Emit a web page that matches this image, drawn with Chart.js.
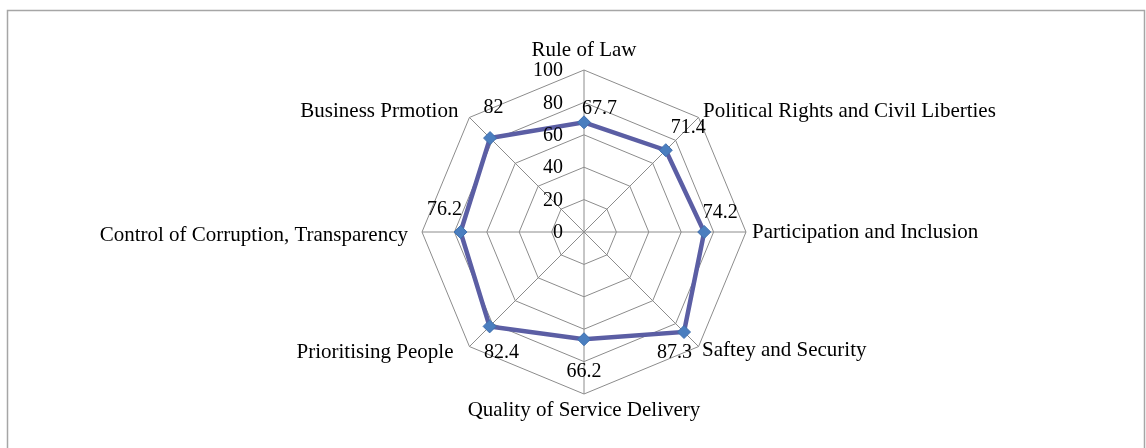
<!DOCTYPE html>
<html>
<head>
<meta charset="utf-8">
<script src="https://cdn.jsdelivr.net/npm/chart.js@4/dist/chart.umd.min.js"></script>
<style>
  html, body { margin: 0; padding: 0; background: #fff; }
  #wrap { width: 1146px; height: 448px; position: relative; }
</style>
</head>
<body>
<div id="wrap"><canvas id="radarChart" width="1146" height="448"></canvas></div>
<script>
// chart data
const categories = [
  'Rule of Law',
  'Political Rights and Civil Liberties',
  'Participation and Inclusion',
  'Saftey and Security',
  'Quality of Service Delivery',
  'Prioritising People',
  'Control of Corruption, Transparency',
  'Business Prmotion'
];
const scores = [67.7, 71.4, 74.2, 87.3, 66.2, 82.4, 76.2, 82];
const tickValues = [0, 20, 40, 60, 80, 100];

// where Excel put the text, relative to the outer vertex / the marker
const catOffsets = [[0, -20, 'center'], [4.5, -5.5, 'left'], [6, 0, 'left'], [3.5, 4, 'left'],
                    [0, 16, 'center'], [-16, 5.5, 'right'], [-14, 3, 'right'], [-11, -5.5, 'right']];
const valOffsets = [[15.5, -14], [22.5, -22], [16, -19], [-9.5, 21], [0, 33], [12, 26], [-16, -22], [3.5, -30]];

const CAT_FONT = '21px "Liberation Serif", "Times New Roman", serif';
const NUM_FONT = '20px "Liberation Serif", "Times New Roman", serif';

const textPlugin = {
  id: 'texts',
  beforeDraw(chart) {
    const ctx = chart.ctx;
    ctx.save();
    ctx.strokeStyle = '#a6a6a6';
    ctx.lineWidth = 1.5;
    ctx.strokeRect(7.5, 10.5, 1137, 460);
    ctx.restore();
  },
  afterDraw(chart) {
    const ctx = chart.ctx;
    const scale = chart.scales.r;
    ctx.save();
    ctx.fillStyle = '#000';
    ctx.textBaseline = 'middle';

    // tick labels, right aligned just left of the vertical spoke
    ctx.font = NUM_FONT;
    ctx.textAlign = 'right';
    tickValues.forEach(v => {
      const y = scale.yCenter - scale.getDistanceFromCenterForValue(v);
      ctx.fillText(String(v), scale.xCenter - 21, y + 1);
    });

    // category labels
    ctx.font = CAT_FONT;
    categories.forEach((c, i) => {
      const p = scale.getPointPosition(i, scale.drawingArea);
      const o = catOffsets[i];
      ctx.textAlign = o[2];
      ctx.fillText(c, p.x + o[0], p.y + o[1]);
    });

    // value labels
    ctx.font = NUM_FONT;
    ctx.textAlign = 'center';
    chart.getDatasetMeta(0).data.forEach((pt, i) => {
      const o = valOffsets[i];
      ctx.fillText(String(scores[i]), pt.x + o[0], pt.y + o[1]);
    });
    ctx.restore();
  }
};

const ctx = document.getElementById('radarChart').getContext('2d');
new Chart(ctx, {
  type: 'radar',
  data: {
    labels: categories,
    datasets: [{
      data: scores,
      borderColor: '#5b5ea4',
      borderWidth: 4.5,
      fill: false,
      tension: 0,
      pointStyle: 'rectRot',
      pointRadius: 6.5,
      pointBackgroundColor: '#4a7ebf',
      pointBorderColor: '#3f6fae',
      pointBorderWidth: 1
    }]
  },
  options: {
    responsive: false,
    animation: false,
    layout: { padding: { top: 70, bottom: 54, left: 422, right: 400 } },
    plugins: { legend: { display: false }, tooltip: { enabled: false } },
    scales: {
      r: {
        min: 0,
        max: 100,
        ticks: { display: false, stepSize: 20 },
        pointLabels: { display: false },
        grid: { circular: false, color: '#8c8c8c', lineWidth: 1 },
        angleLines: { color: '#8c8c8c', lineWidth: 1 }
      }
    }
  },
  plugins: [textPlugin]
});
</script>
</body>
</html>
